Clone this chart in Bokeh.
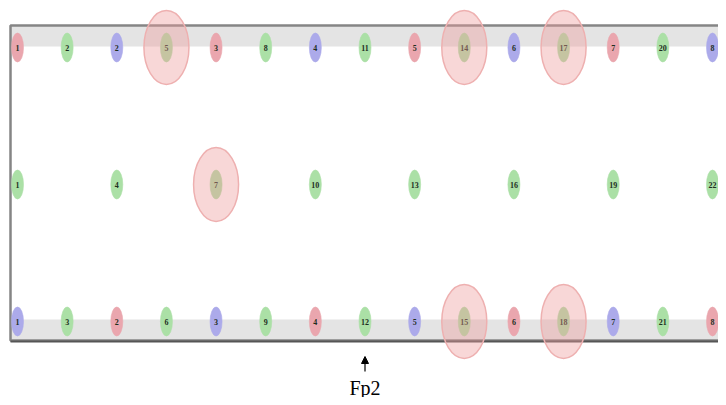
from bokeh.plotting import figure
from bokeh.models import Range1d, Arrow, NormalHead, ColumnDataSource
from bokeh.core.properties import value
from bokeh.embed import file_html
from bokeh.resources import INLINE

# ---- data ----
columns = list(range(15))
top_labels = ["1", "2", "2", "5", "3", "8", "4", "11", "5", "14", "6", "17", "7", "20", "8"]
top_kinds = ["r", "g", "b", "g", "r", "g", "b", "g", "r", "g", "b", "g", "r", "g", "b"]
mid_cols = [0, 2, 4, 6, 8, 10, 12, 14]
mid_labels = ["1", "4", "7", "10", "13", "16", "19", "22"]
bot_labels = ["1", "3", "2", "6", "3", "9", "4", "12", "5", "15", "6", "18", "7", "21", "8"]
bot_kinds = ["b", "g", "r", "g", "b", "g", "r", "g", "b", "g", "r", "g", "b", "g", "r"]
highlight_cols = [3, 9, 11, 4, 9, 11]
highlight_rows = [2, 2, 2, 1, 0, 0]
arrow_col = 7
arrow_label = "Fp2"

kind_color = {"r": "#eaa6ae", "g": "#abe0a6", "b": "#acaaea"}

# ---- layout (pixels of the picture) ----
W, H = 718, 397
X0, DX = 17.0, (712.0 - 17.0) / 14.0
YMID, DY = 184.0, 137.0


def px_x(px):
    return (px - X0) / DX


def px_y(py):
    return 1.0 - (py - YMID) / DY


p = figure(width=W, height=H, output_backend="svg", toolbar_location=None,
           x_range=Range1d(px_x(0), px_x(W)), y_range=Range1d(px_y(H), px_y(0)),
           min_border=0, background_fill_color="white", border_fill_color="white")
p.axis.visible = False
p.grid.visible = False
p.outline_line_color = None

# gray bands
p.quad(left=[px_x(10), px_x(10)], right=[px_x(740), px_x(740)],
       top=[px_y(25), px_y(319)], bottom=[px_y(46), px_y(340)],
       fill_color="#e4e4e4", line_color=None)

# frame
p.quad(left=[px_x(10)], right=[px_x(745)], top=[px_y(25)], bottom=[px_y(340)],
       fill_color=None, line_color="#858585", line_width=2.5)
p.line(x=[px_x(10), px_x(745)], y=[px_y(341), px_y(341)], line_color="#555555", line_width=2)

# electrodes
xs, ys, labs, cols = [], [], [], []
for c, l, k in zip(columns, top_labels, top_kinds):
    xs.append(c); ys.append(2); labs.append(l); cols.append(kind_color[k])
for c, l in zip(mid_cols, mid_labels):
    xs.append(c); ys.append(1); labs.append(l); cols.append(kind_color["g"])
for c, l, k in zip(columns, bot_labels, bot_kinds):
    xs.append(c); ys.append(0); labs.append(l); cols.append(kind_color[k])
src = ColumnDataSource(dict(x=xs, y=ys, t=labs, c=cols))

p.ellipse(x="x", y="y", width=12, height=29, width_units="screen", height_units="screen",
          fill_color="c", line_color="c", line_alpha=0.6, source=src)
p.text(x="x", y="y", text="t", text_align="center", text_baseline="middle",
       text_font_size="8px", text_font_style="bold", text_color="#1e2e1e",
       text_font=value("Liberation Sans Narrow"), source=src)

# highlight circles
p.ellipse(x=highlight_cols, y=highlight_rows, width=45, height=74,
          width_units="screen", height_units="screen",
          fill_color="#ee9a9a", fill_alpha=0.4, line_color="#eeb0b0", line_width=1.5)

# arrow + label
p.add_layout(Arrow(end=NormalHead(size=7, fill_color="black", line_color="black"),
                   x_start=arrow_col, y_start=px_y(371), x_end=arrow_col, y_end=px_y(356),
                   line_color="black", line_width=1.2))
p.text(x=[arrow_col], y=[px_y(387)], text=[arrow_label], text_align="center",
       text_baseline="middle", text_font_size="20px", text_color="black",
       text_font=value("Liberation Serif"))

open("out.html", "w").write(file_html(p, INLINE))
